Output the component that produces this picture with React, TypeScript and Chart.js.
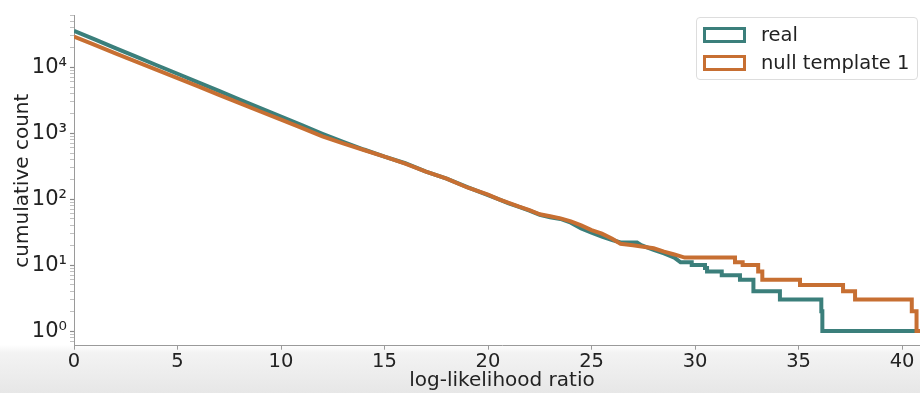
import React, { useEffect, useRef } from 'react';
import { Chart, registerables } from 'chart.js';

Chart.register(...registerables);

// ---- data ----
const realSmoothX = [0, 1, 2, 3, 4, 5, 6, 7, 8, 9, 10, 11, 12, 13, 14, 15, 16, 17, 18, 19, 20, 20.5, 21, 21.5, 22, 22.5, 23, 23.5, 24, 24.5, 25, 25.5, 26, 26.4, 27.2, 27.4, 28, 28.5, 29, 29.3];
const realSmoothCount = [35500, 26400, 19500, 14500, 10700, 7950, 5900, 4360, 3230, 2400, 1780, 1320, 980, 740, 565, 440, 350, 262, 205, 152, 115, 100, 86, 76, 67, 58, 53, 50, 44, 36, 31, 27, 24, 22, 22, 20, 17, 15, 13, 11];
const realStepX = [29.84, 30.48, 30.58, 31.29, 32.17, 32.82, 34.1, 36.1, 36.15];
const realStepCount = [10, 9, 8, 7, 6, 4, 3, 2, 1];

const nullSmoothX = [0, 1, 2, 3, 4, 5, 6, 7, 8, 9, 10, 11, 12, 13, 14, 15, 16, 17, 18, 19, 20, 20.5, 21, 21.5, 22, 22.5, 23, 23.5, 24, 24.5, 25, 25.5, 26, 26.4, 27, 27.5, 28, 28.5, 29, 29.5];
const nullSmoothCount = [29000, 21700, 16200, 12100, 9100, 6800, 5100, 3800, 2850, 2130, 1600, 1200, 895, 700, 555, 440, 345, 262, 205, 150, 117, 100, 88, 77, 68, 59, 55, 51, 46, 40, 34, 30, 25, 21, 20, 19, 18, 16, 14.5, 13];
const nullStepX = [31.93, 32.3, 33.05, 33.25, 35.07, 37.15, 37.73, 40.47, 40.7];
const nullStepCount = [11, 10, 8, 6, 5, 4, 3, 2, 1];

const xEnd = 41.35;
const xTicks = [0, 5, 10, 15, 20, 25, 30, 35, 40];
const yMajorTicks = [1, 10, 100, 1000, 10000];
const yTickLabels = ['10⁰', '10¹', '10²', '10³', '10⁴'];
const yMin = 0.607;
const yMax = 60500;

const seriesNames = ['real', 'null template 1'];
const seriesColors = ['#3b7f7b', '#c76f32'];

const FONT = "'DejaVu Sans', sans-serif";

function buildPoints(sx: number[], sy: number[], stepX: number[], stepY: number[], end: number) {
  const pts = sx.map((x, i) => ({ x, y: sy[i] }));
  let prev = sy[sy.length - 1];
  stepX.forEach((x, i) => {
    pts.push({ x, y: prev });
    pts.push({ x, y: stepY[i] });
    prev = stepY[i];
  });
  pts.push({ x: end, y: prev });
  return pts;
}

export default function App() {
  const ref = useRef<HTMLCanvasElement>(null);

  useEffect(() => {
    if (!ref.current) return;
    const minorTicks: number[] = [];
    yMajorTicks.forEach((m) => {
      for (let k = 1; k <= 9; k++) {
        const v = m * k;
        if (v >= yMin && v <= yMax) minorTicks.push(v);
      }
    });
    [0.7, 0.8, 0.9].forEach((v) => { if (v >= yMin) minorTicks.unshift(v); });
    const yTickVals = Array.from(new Set(minorTicks)).sort((a, b) => a - b);

    const chart = new Chart(ref.current, {
      type: 'line',
      data: {
        datasets: [
          {
            label: seriesNames[0],
            data: buildPoints(realSmoothX, realSmoothCount, realStepX, realStepCount, xEnd),
            borderColor: seriesColors[0],
            borderWidth: 4,
            pointRadius: 0,
            tension: 0,
            fill: false,
            order: 2,
            borderJoinStyle: 'miter',
          },
          {
            label: seriesNames[1],
            data: buildPoints(nullSmoothX, nullSmoothCount, nullStepX, nullStepCount, xEnd),
            borderColor: seriesColors[1],
            borderWidth: 4,
            pointRadius: 0,
            tension: 0,
            fill: false,
            order: 1,
            borderJoinStyle: 'miter',
          },
        ],
      },
      options: {
        responsive: false,
        animation: false,
        devicePixelRatio: 1,
        layout: { padding: { top: 7, right: 2, left: 0, bottom: 0 } },
        plugins: { legend: { display: false }, tooltip: { enabled: false } },
        scales: {
          x: {
            type: 'linear',
            min: 0,
            max: xEnd,
            afterBuildTicks: (s: any) => { s.ticks = xTicks.map((v) => ({ value: v })); },
            afterFit: (s: any) => { s.height = 47.3; },
            grid: { display: true, drawOnChartArea: false, tickLength: 4, color: '#9a9a9a', tickColor: '#9a9a9a' },
            border: { display: true, color: '#9a9a9a', width: 1 },
            ticks: { color: '#222', font: { family: FONT, size: 19.5 }, padding: 1, autoSkip: false, maxRotation: 0 },
            title: { display: true, text: 'log-likelihood ratio', color: '#222', font: { family: FONT, size: 20 }, padding: { top: 0, bottom: 0 } },
          },
          y: {
            type: 'logarithmic',
            min: yMin,
            max: yMax,
            afterBuildTicks: (s: any) => { s.ticks = yTickVals.map((v) => ({ value: v, major: yMajorTicks.includes(v) })); },
            afterFit: (s: any) => { s.width = 74; },
            grid: {
              display: true,
              drawOnChartArea: false,
              tickLength: 4,
              color: '#9a9a9a',
              tickColor: (c: any) => (yMajorTicks.includes(c.tick?.value) ? '#8a8a8a' : '#b0b0b0'),
              tickWidth: (c: any) => (yMajorTicks.includes(c.tick?.value) ? 1.2 : 0.8),
            },
            border: { display: true, color: '#9a9a9a', width: 1 },
            ticks: {
              color: '#222',
              font: { family: FONT, size: 21 },
              padding: 3,
              autoSkip: false,
              callback: (v: any) => {
                const i = yMajorTicks.indexOf(Number(v));
                return i >= 0 ? yTickLabels[i] : '';
              },
            },
            title: { display: true, text: 'cumulative count', color: '#222', font: { family: FONT, size: 20 }, padding: { top: 11, bottom: 0 } },
          },
        },
      },
    });
    return () => chart.destroy();
  }, []);

  const legendRow = (i: number, top: number) => (
    <div key={i} style={{ position: 'absolute', left: 6, top, height: 16, display: 'flex', alignItems: 'center' }}>
      <div style={{ width: 43, height: 16, boxSizing: 'border-box', border: `3.5px solid ${seriesColors[i]}`, background: '#fff' }} />
      <span style={{ marginLeft: 15, fontFamily: FONT, fontSize: 19.5, color: '#222', whiteSpace: 'nowrap', lineHeight: '16px' }}>{seriesNames[i]}</span>
    </div>
  );

  return (
    <div
      style={{
        position: 'fixed',
        left: 0,
        top: 0,
        width: 920,
        height: 393,
        overflow: 'hidden',
        background: 'linear-gradient(to bottom, #ffffff 0px, #ffffff 345px, #f3f3f3 353px, #e7e7e7 393px)',
      }}
    >
      <canvas ref={ref} width={932} height={393} style={{ position: 'absolute', left: 0, top: 0 }} />
      <div
        style={{
          position: 'absolute',
          left: 696,
          top: 17,
          width: 222,
          height: 63,
          boxSizing: 'border-box',
          border: '1px solid #dddddd',
          borderRadius: 4,
          background: 'rgba(255,255,255,0.85)',
        }}
      >
        {legendRow(0, 9)}
        {legendRow(1, 37)}
      </div>
    </div>
  );
}
